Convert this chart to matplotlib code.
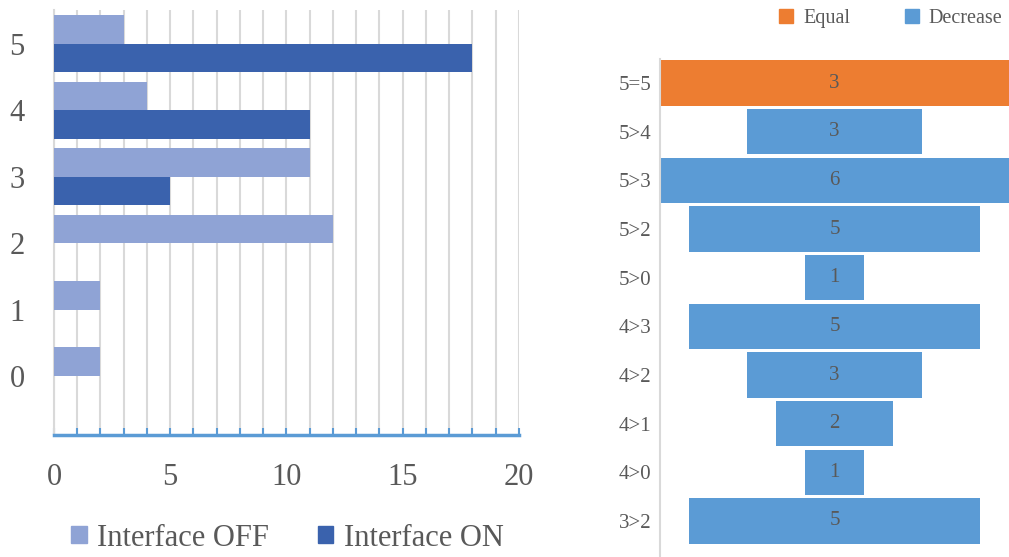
import matplotlib.pyplot as plt
from matplotlib.patches import Patch

plt.rcParams['font.family'] = ['Liberation Serif', 'DejaVu Serif']

# left chart: answers per score level
levels = [0, 1, 2, 3, 4, 5]
off_counts = [2, 2, 12, 11, 4, 3]
on_counts = [0, 0, 0, 5, 11, 18]

# right chart: transitions between score levels
transitions = ['5=5', '5>4', '5>3', '5>2', '5>0', '4>3', '4>2', '4>1', '4>0', '3>2']
bar_widths = [6, 3, 6, 5, 1, 5, 3, 2, 1, 5]
bar_labels = ['3', '3', '6', '5', '1', '5', '3', '2', '1', '5']
kinds = ['Equal'] + ['Decrease'] * 9

off_col = '#8FA3D5'
on_col = '#3A62AD'
axis_blue = '#5B9BD5'
grey_txt = '#595959'
kind_col = {'Equal': '#ED7D31', 'Decrease': '#5B9BD5'}

fig = plt.figure(figsize=(10.09, 5.57), dpi=100)

# ---- left: grouped horizontal bars
ax = fig.add_axes([0.0535, 0.219, 0.4608, 0.763])
h = 0.43
ax.barh([l + h / 2 for l in levels], off_counts, height=h, color=off_col, zorder=3)
ax.barh([l - h / 2 for l in levels], on_counts, height=h, color=on_col, zorder=3)
ax.set_xlim(0, 20)
ax.set_ylim(-0.89, 5.51)
ax.set_xticks([0, 5, 10, 15, 20])
ax.set_xticks(range(0, 21), minor=True)
ax.set_yticks(levels)
ax.grid(axis='x', which='both', color='#D9D9D9', linewidth=1.5, zorder=0)
for s in ['top', 'right']:
    ax.spines[s].set_visible(False)
ax.spines['left'].set_color('#D9D9D9')
ax.spines['left'].set_linewidth(1.5)
ax.spines['bottom'].set_color(axis_blue)
ax.spines['bottom'].set_linewidth(2.5)
ax.tick_params(axis='x', which='both', direction='in', length=5, width=1.5,
               color=axis_blue, labelsize=22, labelcolor=grey_txt, pad=20)
ax.tick_params(axis='y', length=0, labelsize=22, labelcolor=grey_txt, pad=21)

fig.legend(handles=[Patch(color=off_col, label='Interface OFF'),
                    Patch(color=on_col, label='Interface ON')],
           loc='center', bbox_to_anchor=(0.285, 0.034), ncol=2, frameon=False,
           fontsize=22, labelcolor=grey_txt, handlelength=0.5, handleheight=0.5,
           handletextpad=0.35, columnspacing=1.6)

# ---- right: centred funnel bars
ax2 = fig.add_axes([0.654, 0.0, 0.346, 0.8946])
ypos = list(range(len(transitions)))
for y, w, lab, k in zip(ypos, bar_widths, bar_labels, kinds):
    ax2.barh(y, w, left=-w / 2, height=0.93, color=kind_col[k])
    ax2.text(0, y, lab, ha='center', va='center', fontsize=15, color=grey_txt)
ax2.set_xlim(-3, 3)
ax2.set_ylim(9.74, -0.5)
ax2.set_yticks(ypos)
ax2.set_yticklabels(transitions)
ax2.set_xticks([])
for s in ['top', 'right', 'bottom']:
    ax2.spines[s].set_visible(False)
ax2.spines['left'].set_color('#D9D9D9')
ax2.spines['left'].set_linewidth(1.5)
ax2.tick_params(axis='y', length=0, labelsize=15, labelcolor=grey_txt, pad=6)

fig.legend(handles=[Patch(color=kind_col['Equal'], label='Equal'),
                    Patch(color=kind_col['Decrease'], label='Decrease')],
           loc='center', bbox_to_anchor=(0.883, 0.967), ncol=2, frameon=False,
           fontsize=14.5, labelcolor=grey_txt, handlelength=0.7, handleheight=0.7,
           handletextpad=0.5, columnspacing=2.7)

fig.savefig('out.png', dpi=100)
